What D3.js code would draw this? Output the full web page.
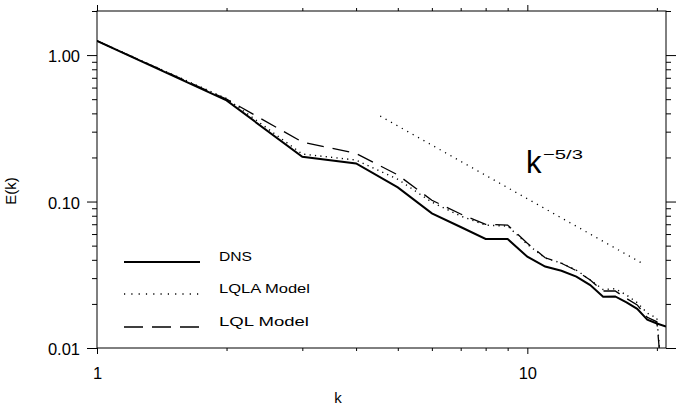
<!DOCTYPE html>
<html>
<head>
<meta charset="utf-8">
<script src="https://cdn.jsdelivr.net/npm/d3@7"></script>
<style>
  body { margin: 0; background: #fff; }
  text { font-family: "Liberation Sans", Arial, sans-serif; fill: #000; }
</style>
</head>
<body>
<svg id="chart" width="696" height="407"></svg>
<script>
// wavenumbers and spectra
var kVals = [1, 2, 3, 4, 5, 6, 7, 8, 9, 10, 11, 12, 13, 14, 15, 16, 17, 18, 19, 20, 21];
var dns  = [1.25, 0.49, 0.202, 0.182, 0.125, 0.083, 0.067, 0.0555, 0.0555, 0.042, 0.036, 0.0337, 0.0307, 0.0269, 0.0224, 0.0225, 0.0205, 0.0185, 0.0156, 0.0147, 0.014];
var lqla = [1.25, 0.505, 0.211, 0.192, 0.142, 0.099, 0.0796, 0.069, 0.068, 0.051, 0.0412, 0.038, 0.034, 0.0292, 0.0251, 0.0254, 0.023, 0.0204, 0.0173, 0.016, 0.003];
var lql  = [1.25, 0.50, 0.255, 0.213, 0.152, 0.102, 0.0822, 0.0699, 0.069, 0.052, 0.0413, 0.0379, 0.0337, 0.0291, 0.0245, 0.0245, 0.0218, 0.0197, 0.0162, 0.0151, 0.003];

// k^-5/3 guide line end points
var refK = [4.55, 18.6];
var refE = [0.3835, 0.0375];

var xMajor = [1, 10];
var xMinor = [2, 3, 4, 5, 6, 7, 8, 9, 20];
var yMajor = [0.01, 0.1, 1];
var yMinor = [0.02, 0.03, 0.04, 0.05, 0.06, 0.07, 0.08, 0.09,
              0.2, 0.3, 0.4, 0.5, 0.6, 0.7, 0.8, 0.9, 2];

var legendNames = ["DNS", "LQLA Model", "LQL Model"];

// plot box (note: "top" is taken by window.top, so use other names)
var boxL = 97, boxR = 666, boxT = 11, boxB = 348;

var svg = d3.select("#chart");

var x = d3.scaleLog().domain([1, 21]).range([boxL, boxR]);
var y = d3.scaleLog().domain([0.01, 2.0]).range([boxB, boxT]);

// clip the curves to the plot box
svg.append("clipPath").attr("id", "box")
  .append("rect")
  .attr("x", boxL).attr("y", boxT)
  .attr("width", boxR - boxL).attr("height", boxB - boxT);

function drawAxis(axis, tx, ty) {
  var g = svg.append("g").attr("transform", "translate(" + tx + "," + ty + ")").call(axis);
  g.select(".domain").remove();
  g.selectAll("line").attr("stroke", "#000");
  return g;
}

// bottom
drawAxis(d3.axisBottom(x).tickValues(xMajor).tickSize(6).tickPadding(13)
  .tickFormat(d3.format("d")), 0, boxB)
  .selectAll("text").style("font-size", "16.5px");
drawAxis(d3.axisBottom(x).tickValues(xMinor).tickSize(3).tickFormat(""), 0, boxB);
// top
drawAxis(d3.axisTop(x).tickValues(xMajor).tickSize(6).tickFormat(""), 0, boxT);
drawAxis(d3.axisTop(x).tickValues(xMinor).tickSize(3).tickFormat(""), 0, boxT);
// left
drawAxis(d3.axisLeft(y).tickValues(yMajor).tickSize(10).tickPadding(7)
  .tickFormat(d3.format(".2f")), boxL, 0)
  .selectAll("text").style("font-size", "16.5px").attr("dy", "0.4em");
drawAxis(d3.axisLeft(y).tickValues(yMinor).tickSize(5).tickFormat(""), boxL, 0);
// right
drawAxis(d3.axisRight(y).tickValues(yMajor).tickSize(10).tickFormat(""), boxR, 0);
drawAxis(d3.axisRight(y).tickValues(yMinor).tickSize(5).tickFormat(""), boxR, 0);

// frame
svg.append("rect")
  .attr("x", boxL).attr("y", boxT)
  .attr("width", boxR - boxL).attr("height", boxB - boxT)
  .attr("fill", "none").attr("stroke", "#000").attr("stroke-width", 1);

// axis titles
svg.append("text").attr("x", 338).attr("y", 403)
  .attr("text-anchor", "middle").style("font-size", "15px").text("k");
svg.append("text")
  .attr("transform", "translate(16,191) rotate(-90)")
  .attr("text-anchor", "middle").style("font-size", "15px").text("E(k)");

var line = d3.line()
  .x(function(d) { return x(d[0]); })
  .y(function(d) { return y(d[1]); });

var series = [
  { vals: dns,  width: 2,   dash: null },
  { vals: lqla, width: 1.4, dash: "1.2,4.2" },
  { vals: lql,  width: 1.3, dash: "17,9" }
];

var plot = svg.append("g").attr("clip-path", "url(#box)");

series.forEach(function(s) {
  plot.append("path")
    .datum(kVals.map(function(k, i) { return [k, s.vals[i]]; }))
    .attr("d", line)
    .attr("fill", "none")
    .attr("stroke", "#000")
    .attr("stroke-width", s.width)
    .attr("stroke-dasharray", s.dash);
});

// guide line
plot.append("path")
  .datum(refK.map(function(k, i) { return [k, refE[i]]; }))
  .attr("d", line)
  .attr("fill", "none")
  .attr("stroke", "#000")
  .attr("stroke-width", 1.3)
  .attr("stroke-dasharray", "1.2,5");

// k^-5/3 label
svg.append("text").attr("x", 526).attr("y", 173)
  .style("font-size", "31px").text("k");
svg.append("text").attr("x", 543).attr("y", 159)
  .attr("textLength", 40).attr("lengthAdjust", "spacingAndGlyphs")
  .style("font-size", "13px").text("\u22125/3");

// legend
var legY = [262, 294, 327];
var legLen = [33, 91, 90];
legendNames.forEach(function(name, i) {
  svg.append("line")
    .attr("x1", 124).attr("x2", 200)
    .attr("y1", legY[i]).attr("y2", legY[i])
    .attr("stroke", "#000")
    .attr("stroke-width", series[i].width)
    .attr("stroke-dasharray", i === 1 ? "1.2,6.1" : (i === 2 ? "19,9" : null));
  svg.append("text")
    .attr("x", 219).attr("y", legY[i] - 1)
    .attr("textLength", legLen[i]).attr("lengthAdjust", "spacingAndGlyphs")
    .style("font-size", "12px")
    .text(name);
});
</script>
</body>
</html>
